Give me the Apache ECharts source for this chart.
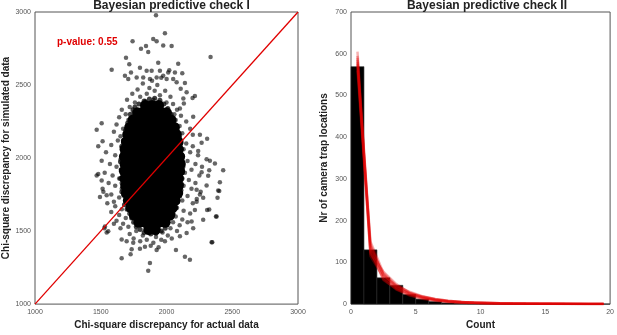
<!DOCTYPE html>
<html>
<head>
<meta charset="utf-8">
<script src="https://cdn.jsdelivr.net/npm/echarts@6/dist/echarts.min.js"></script>
<style>
  html, body { margin: 0; padding: 0; background: #fff; }
  #chart { width: 617px; height: 335px; }
</style>
</head>
<body>
<div id="chart"></div>
<script>
// left panel: chi-square discrepancy, actual vs simulated
// dense middle of the cloud (drawn with bigger marks so it fills in)
const coreDiscrepancy = [
  [1840,2360],[1890,2360],[1940,2360],
  [1780,2310],[1815,2310],[1865,2310],[1915,2310],[1965,2310],[2000,2310],
  [1745,2260],[1790,2260],[1840,2260],[1890,2260],[1940,2260],[1990,2260],[2035,2260],
  [1720,2210],[1765,2210],[1815,2210],[1865,2210],[1915,2210],[1965,2210],[2015,2210],[2060,2210],
  [1705,2160],[1740,2160],[1790,2160],[1840,2160],[1890,2160],[1940,2160],[1990,2160],[2040,2160],[2075,2160],
  [1695,2110],[1715,2110],[1765,2110],[1815,2110],[1865,2110],[1915,2110],[1965,2110],[2015,2110],[2065,2110],[2088,2110],
  [1685,2060],[1740,2060],[1790,2060],[1840,2060],[1890,2060],[1940,2060],[1990,2060],[2040,2060],[2090,2060],
  [1680,2010],[1715,2010],[1765,2010],[1815,2010],[1865,2010],[1915,2010],[1965,2010],[2015,2010],[2065,2010],[2100,2010],
  [1685,1960],[1740,1960],[1790,1960],[1840,1960],[1890,1960],[1940,1960],[1990,1960],[2040,1960],[2090,1960],[2105,1960],
  [1680,1910],[1715,1910],[1765,1910],[1815,1910],[1865,1910],[1915,1910],[1965,1910],[2015,1910],[2065,1910],[2100,1910],
  [1685,1860],[1740,1860],[1790,1860],[1840,1860],[1890,1860],[1940,1860],[1990,1860],[2040,1860],[2090,1860],
  [1690,1810],[1715,1810],[1765,1810],[1815,1810],[1865,1810],[1915,1810],[1965,1810],[2015,1810],[2065,1810],[2090,1810],
  [1695,1760],[1740,1760],[1790,1760],[1840,1760],[1890,1760],[1940,1760],[1990,1760],[2040,1760],[2085,1760],
  [1710,1710],[1765,1710],[1815,1710],[1865,1710],[1915,1710],[1965,1710],[2015,1710],[2065,1710],
  [1730,1660],[1790,1660],[1840,1660],[1890,1660],[1940,1660],[1990,1660],[2045,1660],
  [1755,1610],[1815,1610],[1865,1610],[1915,1610],[1965,1610],[2025,1610],
  [1790,1560],[1840,1560],[1890,1560],[1940,1560],[1990,1560],
  [1865,1510],[1915,1510]
];
// ring of points hugging the dense middle
const ringDiscrepancy = [
  [1745,2330],[1725,2300],[1760,2350],[1705,2240],[1690,2190],[1712,2170],[1672,2120],[1660,2080],
  [1668,2040],[1660,2010],[1650,1975],[1665,1950],[1655,1920],[1668,1890],[1650,1860],[1662,1830],
  [1670,1800],[1660,1770],[1675,1745],[1690,1710],[1680,1680],[1700,1650],[1720,1620],[1735,1590],
  [1750,1560],[1770,1530],[1800,1510],[1830,1490],[1880,1480],[1920,1485],[1960,1500],[1990,1520],
  [2010,1560],[2030,1590],[2050,1620],[2070,1660],[2085,1700],[2100,1740],[2110,1780],[2115,1820],
  [2118,1860],[2120,1900],[2125,1940],[2120,1980],[2118,2020],[2112,2060],[2108,2100],[2098,2140],
  [2085,2180],[2070,2220],[2055,2260],[2035,2300],[2010,2340],[1980,2370],[1950,2395],[1910,2410],
  [1870,2405],[1830,2390],[1790,2370]
];
// speckled edge of the cloud
const edgeDiscrepancy = [
  [1760,2380],[1800,2420],[1850,2440],[1900,2400],[1950,2430],[2000,2380],[1720,2350],[1870,2480],
  [1930,2500],[1780,2470],[1820,2510],[1990,2460],[2030,2420],[1740,2440],[1890,2530],[1960,2550],
  [1840,2390],[2050,2370],[1700,2400],[1910,2460],
  [1660,2330],[1640,2280],[1690,2300],[1620,2230],[1670,2200],[1600,2180],[1650,2150],[1710,2260],
  [2080,2330],[2110,2290],[2070,2260],[2150,2250],[2100,2220],[2180,2200],[2120,2170],[2090,2150],
  [2200,2160],[2060,2300],
  [1630,2120],[1580,2090],[1660,2070],[1540,2040],[1610,2020],[1650,1990],[1570,1960],[1620,1940],
  [1660,1920],[1530,1900],[1590,1880],[1640,1860],[1560,1830],[1610,1810],[1660,1790],[1520,1770],
  [1580,1750],[1640,1730],[1600,1700],[1550,1690],[1670,1850],[1680,2000],
  [2110,2120],[2150,2100],[2200,2080],[2130,2060],[2180,2040],[2240,2020],[2110,2010],[2160,1980],
  [2220,1960],[2270,1940],[2120,1950],[2190,1920],[2140,1900],[2250,1880],[2110,1870],[2170,1850],
  [2220,1830],[2130,1810],[2190,1790],[2260,1770],[2110,1760],[2160,1740],[2230,1720],[2120,1710],
  [2200,1690],
  [1610,1670],[1660,1650],[1580,1630],[1640,1610],[1690,1590],[1620,1570],[1670,1550],[1710,1530],
  [1650,1520],[1600,1550],
  [2080,1660],[2130,1640],[2180,1620],[2070,1600],[2120,1580],[2050,1560],[2100,1540],[2160,1560],
  [2030,1520],[2080,1500],
  [1720,1480],[1770,1500],[1820,1470],[1870,1490],[1920,1460],[1970,1490],[2010,1470],[1750,1450],
  [1850,1440],[1900,1420],[1960,1440],[1800,1430],[2040,1450],[1880,1400],[1940,1390]
];
// scattered points further out
const outerDiscrepancy = [
  [1920,2977],[1988,2855],[1742,2800],[1899,2815],[1925,2800],[1975,2771],[1806,2749],[1844,2767],
  [1861,2726],[1692,2687],[1717,2642],[1583,2604],[1937,2653],[1798,2619],[1849,2597],[1730,2586],
  [1887,2597],[1950,2597],[2013,2586],[1684,2563],[1709,2541],[1773,2552],[1823,2552],[1874,2541],
  [1925,2552],[1975,2563],[2051,2541],[2077,2519],[2039,2767],[2335,2692],[2089,2646],[2021,2601],
  [2064,2586],[2120,2581],[2001,2541],[2140,2514],[2153,2451],[2108,2474],[2216,2424],[2198,2411],
  [2128,2407],[2132,2373],[2102,2339],[2203,2283],[2254,2160],[2309,2133],[2267,2104],[2241,2048],
  [2305,1992],[2368,1962],[2431,1917],[2325,1917],[2267,1902],[2317,1879],[2406,1835],[2305,1812],
  [2401,1774],[2229,1783],[2254,1751],[2388,1729],[2279,1729],[2229,1700],[2325,1648],[2216,1644],
  [2376,1599],[2279,1577],[2191,1565],[2203,1520],[2153,1487],[2348,1424],[2072,1370],[2140,1325],
  [2178,1303],[2102,1464],[1988,1431],[1659,1314],[1727,1341],[1735,1375],[1874,1281],[1861,1229],
  [1925,1370],[1798,1379],[1836,1393],[1557,1498],[1527,1520],[1659,1442],[1697,1431],[1747,1420],
  [1469,2193],[1507,2238],[1481,2081],[1514,2115],[1507,1981],[1469,1880],[1507,1846],[1514,1790],
  [1545,1745],[1481,1890],[1494,1734],[1532,1532],[1545,1491],[2330,1981],[2309,1644],[2393,1778],
  [2381,1599],[2343,1424]
];
const identityLine = [[1000, 1000], [3000, 3000]];
const pValue = 0.55;

// right panel: observed histogram of counts (bin starts at 0,1,2,...)
const countBins = [0,1,2,3,4,5,6,7,8,9,10,11,12,13,14,15,16,17,18,19];
const observedFreq = [569,130,63,45,23,12,6,3,2,1,1,0,0,0,0,0,0,0,0,0];
// simulated frequencies at bin centres, one array per posterior draw
const binCentres = [0.5,1.5,2.5,3.5,4.5,5.5,6.5,7.5,8.5,9.5,10.5,11.5,12.5,13.5,14.5,15.5,16.5,17.5,18.5,19.5];
const simFreq = [
  [560,125,60,35,22,14,9,6,4,3,2,1.5,1.2,1,0.8,0.6,0.5,0.4,0.3,0.3],
  [575,140,70,42,26,17,11,7,5,3,2,1.6,1.3,1,0.8,0.7,0.6,0.5,0.4,0.3],
  [585,150,75,45,28,18,12,8,5,4,3,2,1.5,1.2,1,0.8,0.7,0.6,0.5,0.4],
  [595,115,65,38,24,15,10,6,4,3,2,1.5,1.1,0.9,0.7,0.6,0.5,0.4,0.3,0.3],
  [605,135,72,40,25,16,10,7,5,3,2.5,1.8,1.4,1.1,0.9,0.7,0.6,0.5,0.4,0.4],
  [570,145,68,44,30,19,12,8,5,4,3,2,1.6,1.3,1,0.8,0.6,0.5,0.4,0.3],
  [590,130,58,36,21,13,8,5,3,2,1.5,1.2,1,0.8,0.6,0.5,0.4,0.3,0.3,0.2],
  [580,120,78,48,27,18,11,7,5,3,2.5,2,1.5,1.2,1,0.8,0.7,0.6,0.5,0.4]
];

const RED = '#e00000';
const FONT = 'Liberation Sans';
const chart = echarts.init(document.getElementById('chart'));

const tickLabel = { color: '#555', fontSize: 7, fontFamily: FONT, margin: 4, formatter: v => String(v) };
const axisCommon = {
  axisLine: { show: false },
  axisTick: { show: false },
  splitLine: { show: false },
  axisLabel: tickLabel,
  nameLocation: 'middle',
  nameTextStyle: { color: '#222', fontSize: 10, fontWeight: 'bold', fontFamily: FONT }
};

// scatter defaults to opacity 0.8, so the alpha is set explicitly here
function dots(data, size, alpha) {
  return { type: 'scatter', xAxisIndex: 0, yAxisIndex: 0, data: data,
    symbolSize: size, itemStyle: { color: '#000', opacity: alpha }, silent: true };
}

const series = [
  dots(coreDiscrepancy, 11, 1),
  dots(ringDiscrepancy, 5, 0.75),
  dots(edgeDiscrepancy, 4.5, 0.6),
  dots(outerDiscrepancy, 4.5, 0.6),
  {
    type: 'line', xAxisIndex: 0, yAxisIndex: 0, data: identityLine, z: 5,
    symbol: 'none', lineStyle: { color: RED, width: 1.3 }, silent: true
  },
  {
    type: 'custom', xAxisIndex: 1, yAxisIndex: 1,
    data: countBins.map((b, i) => [b, b + 1, observedFreq[i]]),
    renderItem: function (params, api) {
      const p0 = api.coord([api.value(0), api.value(2)]);
      const p1 = api.coord([api.value(1), 0]);
      return {
        type: 'rect',
        shape: { x: p0[0], y: p0[1], width: p1[0] - p0[0], height: p1[1] - p0[1] },
        style: { fill: '#000', stroke: '#2a2a2a', lineWidth: 0.6 }
      };
    },
    silent: true
  }
];
simFreq.forEach(function (draw) {
  series.push({
    type: 'line', xAxisIndex: 1, yAxisIndex: 1, z: 5,
    data: binCentres.map((c, i) => [c, draw[i]]),
    symbol: 'none', lineStyle: { color: RED, width: 2.5, opacity: 0.3 }, silent: true
  });
});

chart.setOption({
  animation: false,
  title: [
    { text: 'Bayesian predictive check I', left: 166.5, textAlign: 'center', top: -5,
      textStyle: { fontSize: 12, fontWeight: 'bold', color: '#222', fontFamily: FONT } },
    { text: 'Bayesian predictive check II', left: 482, textAlign: 'center', top: -5,
      textStyle: { fontSize: 12, fontWeight: 'bold', color: '#222', fontFamily: FONT } }
  ],
  grid: [
    { left: 35, top: 12, width: 263, height: 297, show: true, borderColor: '#555', borderWidth: 1 },
    { left: 351, top: 12, width: 262, height: 297, show: true, borderColor: '#555', borderWidth: 1 }
  ],
  xAxis: [
    Object.assign({}, axisCommon, { type: 'value', gridIndex: 0, min: 1000, max: 3000, interval: 500,
      name: 'Chi-square discrepancy for actual data', nameGap: 15 }),
    Object.assign({}, axisCommon, { type: 'value', gridIndex: 1, min: 0, max: 20, interval: 5,
      name: 'Count', nameGap: 15 })
  ],
  yAxis: [
    Object.assign({}, axisCommon, { type: 'value', gridIndex: 0, min: 1000, max: 3000, interval: 500,
      name: 'Chi-square discrepancy for simulated data', nameGap: 22 }),
    Object.assign({}, axisCommon, { type: 'value', gridIndex: 1, min: 0, max: 700, interval: 100,
      name: 'Nr of camera trap locations', nameGap: 22 })
  ],
  graphic: [
    { type: 'text', left: 57, top: 37,
      style: { text: 'p-value: ' + pValue.toFixed(2), fill: RED, fontSize: 10, fontWeight: 'bold', fontFamily: FONT } }
  ],
  series: series
});
</script>
</body>
</html>
